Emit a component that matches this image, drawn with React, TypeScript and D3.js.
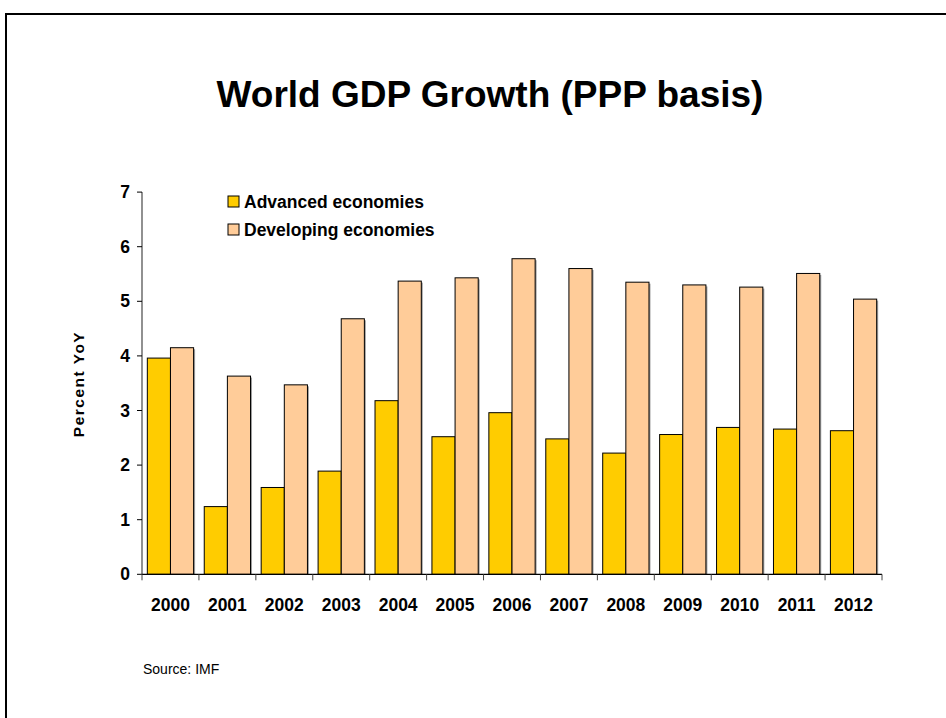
import React from "react";
import * as d3 from "d3";

const years = ["2000","2001","2002","2003","2004","2005","2006","2007","2008","2009","2010","2011","2012"];
const advanced = [3.96,1.24,1.59,1.89,3.18,2.52,2.96,2.48,2.22,2.56,2.69,2.66,2.63];
const developing = [4.15,3.63,3.47,4.68,5.37,5.43,5.78,5.60,5.35,5.30,5.26,5.51,5.04];
const yTicks = [0,1,2,3,4,5,6,7];
const seriesNames = ["Advanced economies","Developing economies"];
const seriesColors = ["#FFCC00","#FFCC99"];

export default function App() {
  const W = 946, H = 718;
  const x0 = 142, x1 = 882, yBase = 574.3, yTop = 192.1;
  const x = d3.scaleBand().domain(years).range([x0, x1]).paddingInner(0).paddingOuter(0);
  const y = d3.scaleLinear().domain([0, 7]).range([yBase, yTop]);
  const inner = d3.scaleBand().domain(["a","d"]).range([0, x.bandwidth()]).paddingOuter(0.23).paddingInner(0);
  const font = "Arial, 'Liberation Sans', Helvetica, sans-serif";
  const series = [advanced, developing];

  return (
    <svg width={W} height={H} style={{position:"absolute", left:0, top:0, background:"#fff"}} fontFamily={font}>
      <rect x={6} y={14} width={W + 20} height={H + 20} fill="none" stroke="#000" strokeWidth={2} />
      <text x={490} y={107} textAnchor="middle" fontWeight="bold" fontSize={37}>World GDP Growth (PPP basis)</text>

      {years.map((yr, i) => (
        <g key={yr}>
          {series.map((s, k) => {
            const bx = (x(yr) as number) + (inner(k === 0 ? "a" : "d") as number);
            const bw = inner.bandwidth();
            const ty = y(s[i]);
            return (
              <g key={k}>
                <rect x={bx + 1.5} y={ty + 1.5} width={bw} height={yBase - ty - 1.5} fill="#8a8a8a" opacity={0.8} />
                <rect x={bx} y={ty} width={bw} height={yBase - ty} fill={seriesColors[k]} stroke="#000" strokeWidth={1} />
              </g>
            );
          })}
        </g>
      ))}

      {/* y axis */}
      <line x1={x0} x2={x0} y1={yTop} y2={yBase} stroke="#555" strokeWidth={1.3} />
      {yTicks.map(t => (
        <g key={t}>
          <line x1={x0 - 5} x2={x0} y1={y(t)} y2={y(t)} stroke="#000" strokeWidth={1} />
          <text x={x0 - 12} y={y(t)} dy="0.35em" textAnchor="end" fontWeight="bold" fontSize={17.5}>{t}</text>
        </g>
      ))}
      {/* x axis */}
      <line x1={x0} x2={x1} y1={yBase} y2={yBase} stroke="#000" strokeWidth={1.3} />
      {[...years.map(yr => x(yr) as number), x1].map((p, i) => (
        <line key={i} x1={p} x2={p} y1={yBase} y2={yBase + 6} stroke="#444" strokeWidth={1} />
      ))}
      {years.map(yr => (
        <text key={yr} x={(x(yr) as number) + x.bandwidth() / 2} y={611} textAnchor="middle" fontWeight="bold" fontSize={17.5}>{yr}</text>
      ))}

      <text transform={`translate(84,384) rotate(-90)`} textAnchor="middle" fontWeight="bold" fontSize={15.5} letterSpacing={1.5}>Percent YoY</text>

      {seriesNames.map((n, k) => (
        <g key={n}>
          <rect x={228} y={196 + k * 28} width={11} height={11} fill={seriesColors[k]} stroke="#000" strokeWidth={1} />
          <text x={244} y={201.5 + k * 28} dy="0.35em" fontWeight="bold" fontSize={17.5}>{n}</text>
        </g>
      ))}

      <text x={143} y={674} fontSize={14}>Source: IMF</text>
    </svg>
  );
}
